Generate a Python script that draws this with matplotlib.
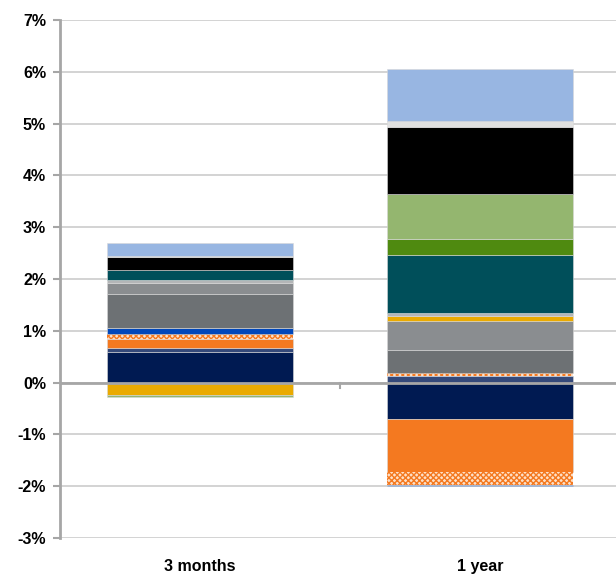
import matplotlib.pyplot as plt
import numpy as np

plt.rcParams['font.family'] = ['Liberation Sans', 'DejaVu Sans']

periods = ['3 months', '1 year']
y_ticks = [-3, -2, -1, 0, 1, 2, 3, 4, 5, 6, 7]

# contribution per series (% points), in stacking order
navy = [0.60, -0.70]
slate = [0.06, 0.13]
hatch_a = [0.00, 0.05]
orange = [0.19, -1.03]
hatch_b = [0.09, -0.25]
blue = [0.11, -0.02]
dark_gray = [0.67, 0.44]
mid_gray = [0.21, 0.56]
yellow = [-0.24, 0.11]
light_gray = [0.05, 0.06]
teal = [0.19, 1.11]
dark_green = [0.00, 0.31]
light_green = [-0.03, 0.87]
black = [0.25, 1.29]
pale_gray = [0.02, 0.12]
light_blue = [0.26, 1.00]

series = [
    (navy, '#001a52', False),
    (slate, '#34497a', False),
    (hatch_a, '#f47920', True),
    (orange, '#f47920', False),
    (hatch_b, '#f47920', True),
    (blue, '#0047bb', False),
    (dark_gray, '#6d7174', False),
    (mid_gray, '#8a8d90', False),
    (yellow, '#eaaa00', False),
    (light_gray, '#b3b5b7', False),
    (teal, '#004f5a', False),
    (dark_green, '#4f8a10', False),
    (light_green, '#94b66f', False),
    (black, '#000000', False),
    (pale_gray, '#e0e0e0', False),
    (light_blue, '#98b6e2', False),
]

fig = plt.figure(figsize=(6.16, 5.74), dpi=100)
ax = fig.add_axes([60 / 616, 36 / 574, 560 / 616, 518 / 574])

x = np.arange(len(periods))
pos_base = np.zeros(len(periods))
neg_base = np.zeros(len(periods))
for vals, col, hatched in series:
    vals = np.array(vals)
    bottom = np.where(vals >= 0, pos_base, neg_base)
    if hatched:
        ax.bar(x, vals, 0.664, bottom=bottom, color='#fde0c8', edgecolor=col,
               hatch='xxxxxx', linewidth=0, zorder=2)
    else:
        ax.bar(x, vals, 0.664, bottom=bottom, color=col, edgecolor='#d8d8d8',
               linewidth=0.4, zorder=2)
    pos_base += np.where(vals > 0, vals, 0)
    neg_base += np.where(vals < 0, vals, 0)

ax.set_xlim(-0.5, 1.5)
ax.set_ylim(-3, 7)
ax.set_yticks(y_ticks)
ax.set_yticklabels([f'{t}%' for t in y_ticks])
ax.set_xticks(x)
ax.set_xticklabels(periods)
ax.tick_params(axis='x', length=0, pad=15, labelsize=11.5)
ax.tick_params(axis='y', length=5, width=1.5, color='#a6a6a6', pad=5, labelsize=11.5)
for lab in ax.get_xticklabels() + ax.get_yticklabels():
    lab.set_fontweight('bold')

ax.grid(axis='y', color='#d0d0d0', linewidth=1.3, zorder=0)
ax.set_axisbelow(True)
ax.axhline(0, color='#a6a6a6', linewidth=2, zorder=3)
ax.plot([0.5, 0.5], [0, -0.11], color='#a6a6a6', linewidth=1.5, zorder=3)

for side in ['top', 'right', 'bottom']:
    ax.spines[side].set_visible(False)
ax.spines['left'].set_color('#a6a6a6')
ax.spines['left'].set_linewidth(2)

# title sits mostly above the visible area, as in the source image
fig.text(0.495, 1 - 0.5 / 574, 'Contribution to returns', ha='center', va='baseline',
         fontsize=13, fontweight='bold', color='#8c8c8c')

fig.savefig('out.png', dpi=100)
